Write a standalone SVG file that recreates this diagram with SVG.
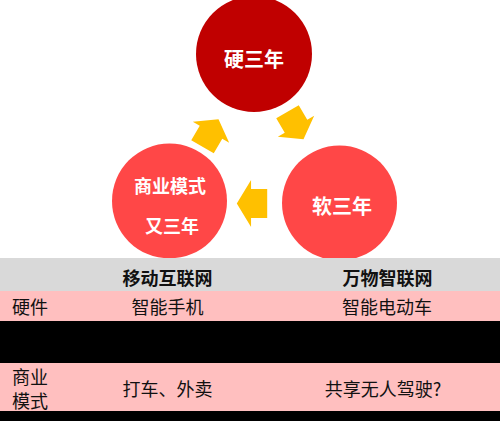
<svg xmlns="http://www.w3.org/2000/svg" width="500" height="421" viewBox="0 0 500 421">
<style>
.cl{font-family:"Noto Sans CJK SC","Noto Sans",sans-serif;font-weight:bold;fill:#fff;text-anchor:middle;dominant-baseline:central}
.tb{font-family:"Noto Sans CJK SC","Noto Sans",sans-serif;font-size:18px;fill:#111;dominant-baseline:central}
.hd{font-weight:bold}
.mid{text-anchor:middle}
.arr{fill:#FFC000}
</style>
<defs>
<path id="arrow" d="M16,0 L1,-21 L1,-13 L-16,-13 L-16,13 L1,13 L1,21 Z"/>
</defs>
<g id="connectors">
<use href="#arrow" class="arr" transform="translate(210.5,133) rotate(-60)"/>
<use href="#arrow" class="arr" transform="translate(295.5,125.5) rotate(60)"/>
<use href="#arrow" class="arr" transform="translate(252,203.5) rotate(180) scale(0.95,1.12)"/>
</g>
<g id="node-hard">
<circle cx="254" cy="54" r="58" fill="#C00000"/>
<text class="cl" x="254" y="58" font-size="20">硬三年</text>
</g>
<g id="node-business">
<circle cx="169.5" cy="201" r="57.5" fill="#FF4747"/>
<text class="cl" x="170" y="185" font-size="18">商业模式</text>
<text class="cl" x="172" y="225" font-size="18">又三年</text>
</g>
<g id="node-soft">
<circle cx="339.5" cy="203" r="57.5" fill="#FF4747"/>
<text class="cl" x="342" y="205" font-size="20">软三年</text>
</g>
<g id="table">
<rect x="0" y="258" width="500" height="33" fill="#D9D9D9"/>
<rect x="0" y="291" width="500" height="30" fill="#FFBFBF"/>
<rect x="0" y="321" width="500" height="42" fill="#000"/>
<rect x="0" y="363" width="500" height="48" fill="#FFBFBF"/>
<rect x="0" y="411" width="500" height="10" fill="#000"/>
<text class="tb hd mid" x="167.5" y="277">移动互联网</text>
<text class="tb hd mid" x="387.5" y="277">万物智联网</text>
<text class="tb" x="12" y="306">硬件</text>
<text class="tb mid" x="167.5" y="306">智能手机</text>
<text class="tb mid" x="387" y="306">智能电动车</text>
<text class="tb" x="12" y="376" font-size="16">商业</text>
<text class="tb" x="12" y="399.5" font-size="16">模式</text>
<text class="tb mid" x="167.5" y="388">打车、外卖</text>
<text class="tb mid" x="383" y="388">共享无人驾驶?</text>
</g>
</svg>
